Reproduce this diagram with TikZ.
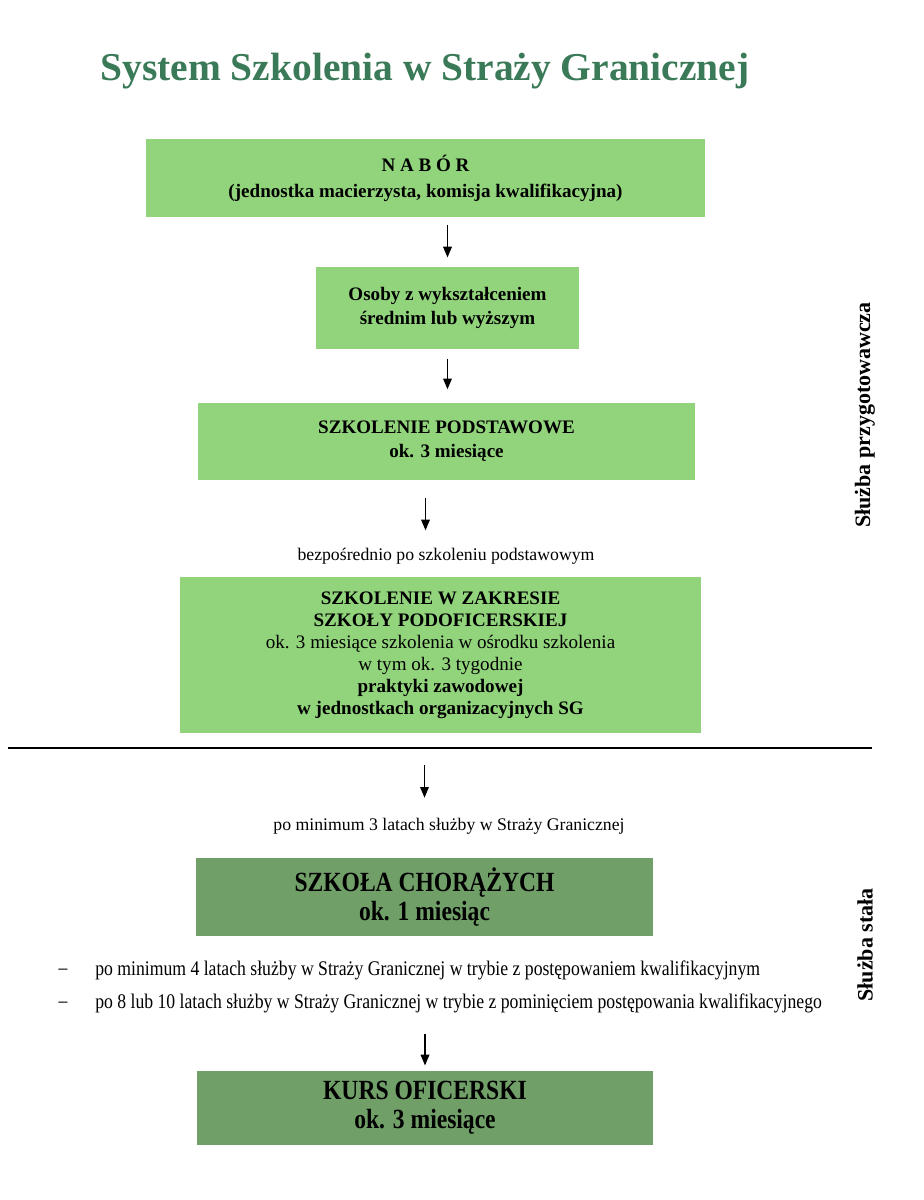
\documentclass[tikz,border=0pt]{standalone}
\usepackage{fontspec}
\setmainfont{Liberation Serif}
\newfontfamily\waskifont[FakeStretch=0.85]{Liberation Serif}
\usetikzlibrary{arrows.meta}
\definecolor{jasnazielen}{RGB}{146,212,124}
\definecolor{ciemnazielen}{RGB}{112,160,104}
\definecolor{tytulowy}{RGB}{58,122,88}

\begin{document}
\begin{tikzpicture}[x=0.75pt, y=-0.75pt,
	jasnybox/.style={fill=jasnazielen, align=center, inner sep=0pt, font=\bfseries\fontsize{14.3}{16.5}\selectfont},
	ciemnybox/.style={fill=ciemnazielen, align=center, inner sep=0pt, font=\waskifont\bfseries\fontsize{20.8}{21.5}\selectfont},
	opis/.style={inner sep=0pt, font=\fontsize{13.3}{16}\selectfont},
	warunek/.style={inner sep=0pt, font=\waskifont\fontsize{15.6}{18}\selectfont},
	bok/.style={rotate=90, inner sep=0pt, font=\bfseries\fontsize{16.5}{18}\selectfont},
	strzalka/.style={-{Triangle[length=8pt,width=6.5pt]}, line width=0.9pt}]
	\fill[white] (0,0) rectangle (924,1200);
	\useasboundingbox (0,0) rectangle (924,1200);
	\node[text=tytulowy, inner sep=0pt, font=\bfseries\fontsize{29.6}{32}\selectfont] (tytul) at (425,71) {System Szkolenia w Straży Granicznej};
	% sluzba przygotowawcza
	\node[jasnybox, minimum width=419pt, minimum height=58.5pt] (nabor) at (425.5,178) {N A B Ó R\\[3pt](jednostka macierzysta, komisja kwalifikacyjna)};
	\node[jasnybox, minimum width=197pt, minimum height=61.5pt] (osoby) at (447.5,308) {Osoby z wykształceniem\\[2pt]średnim lub wyższym};
	\node[jasnybox, minimum width=373pt, minimum height=58pt] (podst) at (446.5,441.5) {SZKOLENIE PODSTAWOWE\\[1.5pt]ok. 3 miesiące};
	\node[opis] (bezp) at (446,556) {bezpośrednio po szkoleniu podstawowym};
	\node[jasnybox, minimum width=391pt, minimum height=117pt] (zakres) at (440.5,655) {SZKOLENIE W ZAKRESIE\\SZKOŁY PODOFICERSKIEJ\\\textmd{ok. 3 miesiące szkolenia w ośrodku szkolenia}\\\textmd{w tym ok. 3 tygodnie}\\praktyki zawodowej\\w jednostkach organizacyjnych SG};
	\draw[line width=1pt] (8,748) -- (872,748);
	% sluzba stala
	\node[opis] (po3) at (449,826) {po minimum 3 latach służby w Straży Granicznej};
	\node[ciemnybox, minimum width=343pt, minimum height=58.5pt] (chor) at (424.5,897) {SZKOŁA CHORĄŻYCH\\ok. 1 miesiąc};
	\node[warunek] (kreska1) at (63,972) {–};
	\node[warunek, anchor=west] (war1) at (95,970) {po minimum 4 latach służby w Straży Granicznej w trybie z postępowaniem kwalifikacyjnym};
	\node[warunek] (kreska2) at (63,1005) {–};
	\node[warunek, anchor=west] (war2) at (95,1003) {po 8 lub 10 latach służby w Straży Granicznej w trybie z pominięciem postępowania kwalifikacyjnego};
	\node[ciemnybox, minimum width=342pt, minimum height=55.5pt] (kurs) at (425,1108) {KURS OFICERSKI\\ok. 3 miesiące};
	\node[bok] (przyg) at (865,415) {Służba przygotowawcza};
	\node[bok] (stala) at (865,945) {Służba stała};
	% strzalki
	\draw[strzalka, shorten <=6pt, shorten >=7pt] (nabor.south -| osoby) -- (osoby.north);
	\draw[strzalka, shorten <=7pt, shorten >=10pt] (osoby.south) -- (podst.north -| osoby);
	\draw[strzalka, shorten <=13pt, shorten >=13pt] (podst.south -| nabor) -- (bezp.north -| nabor);
	\draw[strzalka, shorten <=24pt, shorten >=15pt] (zakres.south -| chor) -- (po3.north -| chor);
	\draw[strzalka, shorten <=16pt, shorten >=4pt] (war2.south -| kurs) -- (kurs.north);
\end{tikzpicture}
\end{document}
